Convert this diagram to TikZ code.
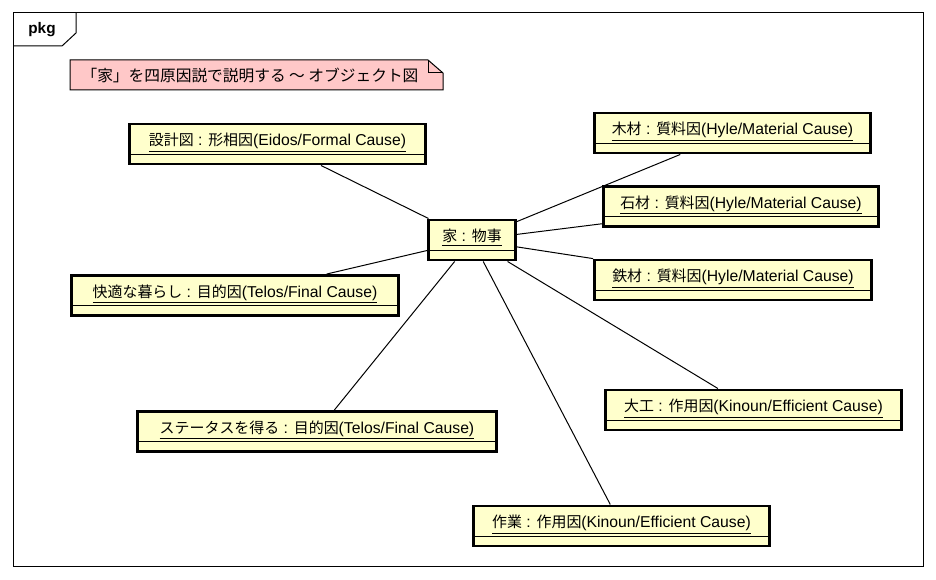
\documentclass[tikz,border=0pt]{standalone}
\usepackage{fontspec}
\setmainfont{Liberation Sans}
\newfontfamily\jp[Scale=0.95]{Noto Sans CJK JP}
\usepackage{tikz}
\usetikzlibrary{positioning}
\definecolor{objyellow}{RGB}{255,255,204}
\definecolor{notepink}{RGB}{255,200,200}
\newcommand{\ja}[1]{{\jp #1}}

\begin{document}
\begin{tikzpicture}[x=0.75pt, y=-0.75pt,
            obj/.style={draw, line width=2.2pt, fill=objyellow, minimum width=#1*0.75pt, inner xsep=0pt, inner ysep=0pt,
                text height=16.5pt, text depth=13.5pt, font=\fontsize{11.8}{14}\selectfont,
                path picture={\draw[line width=0.75pt] ([yshift=7.2pt]path picture bounding box.south west) -- ([yshift=7.2pt]path picture bounding box.south east);}},
            link/.style={draw, line width=0.75pt}]

            \useasboundingbox[fill=white] (0,0) rectangle (936,580);

            % package frame
            \draw[line width=0.75pt] (13,13) rectangle (923,567);
            \draw[line width=0.75pt] (13,46) -- (62,46) -- (76,33) -- (76,13);
            \node[font=\fontsize{11.5}{14}\selectfont\bfseries] (pkg) at (42,30) {pkg};

            % note
            \draw[line width=0.75pt, fill=notepink] (70,60) -- (428,60) -- (443,73) -- (443,90) -- (70,90) -- cycle;
            \draw[line width=0.75pt] (428,60) |- (443,73);
            \node[font=\fontsize{12.4}{14}\selectfont\jp] (title) at (250,75) {「家」を四原因説で説明する ～ オブジェクト図};

            % objects
            \node[obj=87] (ie) at (472,240) {\underline{\ja{家} : \ja{物事}}};
            \node[obj=296] (sekkei) at (277.5,144) {\underline{\ja{設計図} : \ja{形相因}(Eidos/Formal Cause)}};
            \node[obj=276] (mokuzai) at (732.5,133) {\underline{\ja{木材} : \ja{質料因}(Hyle/Material Cause)}};
            \node[obj=275] (sekizai) at (741,206.5) {\underline{\ja{石材} : \ja{質料因}(Hyle/Material Cause)}};
            \node[obj=277] (tetsuzai) at (733,280) {\underline{\ja{鉄材} : \ja{質料因}(Hyle/Material Cause)}};
            \node[obj=327] (kaiteki) at (235,295.5) {\underline{\ja{快適な暮らし} : \ja{目的因}(Telos/Final Cause)}};
            \node[obj=359] (status) at (317,431.5) {\underline{\ja{ステータスを得る} : \ja{目的因}(Telos/Final Cause)}};
            \node[obj=296] (daiku) at (753.5,410) {\underline{\ja{大工} : \ja{作用因}(Kinoun/Efficient Cause)}};
            \node[obj=296] (sagyou) at (621.5,526) {\underline{\ja{作業} : \ja{作用因}(Kinoun/Efficient Cause)}};

            \draw[link] (ie) -- (sekkei);
            \draw[link] (ie) -- (mokuzai);
            \draw[link] (ie) -- (sekizai);
            \draw[link] (ie) -- (tetsuzai);
            \draw[link] (ie) -- (kaiteki);
            \draw[link] (ie) -- (status);
            \draw[link] (ie) -- (daiku);
            \draw[link] (ie) -- (sagyou);
        \end{tikzpicture}
\end{document}
